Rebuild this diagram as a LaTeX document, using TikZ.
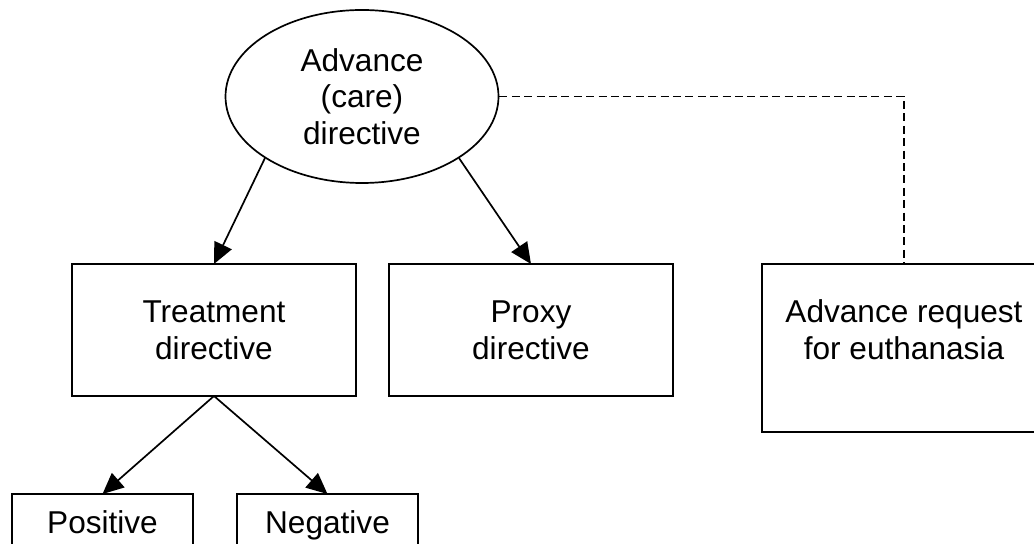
\documentclass[tikz,border=0pt]{standalone}
\usepackage{fontspec}
\setmainfont{Liberation Sans}
\usetikzlibrary{positioning,arrows.meta,shapes.geometric}

\begin{document}
\begin{tikzpicture}[x=0.5pt, y=-0.5pt,
  font=\fontsize{15.8}{18.3}\selectfont, line width=0.85pt,
  box/.style={draw, shape=rectangle, align=center, inner sep=0pt, outer sep=0pt, minimum width=142pt, minimum height=66pt},
  leaf/.style={draw, shape=rectangle, inner sep=0pt, outer sep=0pt, text depth=0pt, minimum width=90.5pt, minimum height=28pt},
  arr/.style={-{Triangle[length=10.5pt,width=9.5pt]}}]
    \clip (0,0) rectangle (1034,544);
    \node[draw, shape=ellipse, align=center, inner sep=0pt, minimum width=136.5pt, minimum height=86.5pt] (adv) at (362,96.5) {Advance\\(care)\\directive};
    \node[box] (treat) at (214,330) {Treatment\\directive};
    \node[box, right=16.5pt of treat] (proxy) {Proxy\\directive};
    \node[box, minimum height=84pt, below right=0pt and 44.5pt of proxy.north east] (euth) {Advance request\\for euthanasia\\\mbox{}};
    \node[leaf, below left=49pt and 10.5pt of treat.south] (pos) {Positive};
    \node[leaf, below right=49pt and 11.5pt of treat.south] (neg) {Negative};
    %
    \draw[arr] (adv.south west) -- (treat.north);
    \draw[arr] (adv.south east) -- (proxy.north);
    \draw[dash pattern=on 4pt off 2.2pt] (adv.east) -| (euth.north);
    \draw[arr] (treat.south) -- (pos.north);
    \draw[arr] (treat.south) -- (neg.north);
\end{tikzpicture}
\end{document}
